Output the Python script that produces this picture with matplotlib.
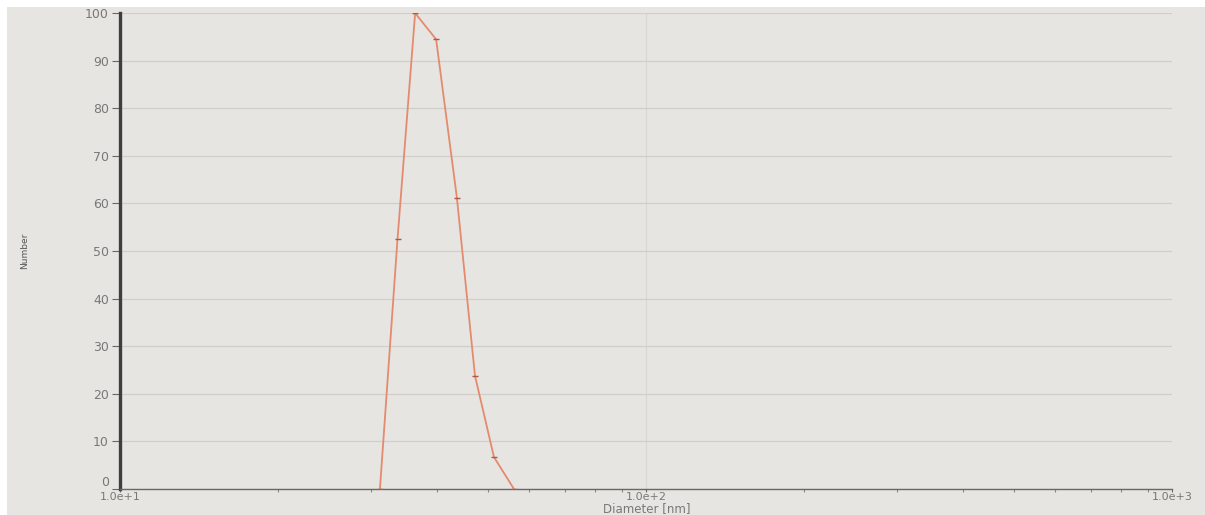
import matplotlib
matplotlib.use("Agg")
import matplotlib.pyplot as plt
from matplotlib.ticker import FixedLocator, FixedFormatter, LogLocator, NullFormatter
from matplotlib.patches import Rectangle

# Size distribution by number (DLS)
diameter_nm = [31.2, 33.7, 36.4, 39.9, 43.7, 47.3, 51.4, 56.1]
number_pct = [0.0, 52.6, 100.0, 94.5, 61.2, 23.8, 6.7, 0.0]

x_ticks = [10, 100, 1000]
x_tick_labels = ["1.0e+1", "1.0e+2", "1.0e+3"]
y_ticks = list(range(0, 101, 10))

paper = "#e7e5e2"
ink = "#7a7876"

fig = plt.figure(figsize=(12.05, 5.15), dpi=100)
fig.patch.set_facecolor(paper)
# white margin strips along the top and left edges
fig.patches.append(Rectangle((0, 0.986), 1, 0.014, transform=fig.transFigure,
                             facecolor="white", edgecolor="none", zorder=0))
fig.patches.append(Rectangle((0, 0), 0.006, 1, transform=fig.transFigure,
                             facecolor="white", edgecolor="none", zorder=0))

ax = fig.add_axes([0.0996, 0.0505, 0.873, 0.924])
ax.set_facecolor(paper)
ax.set_xscale("log")
ax.set_xlim(10, 1000)
ax.set_ylim(0, 100)

ax.xaxis.set_major_locator(FixedLocator(x_ticks))
ax.xaxis.set_major_formatter(FixedFormatter(x_tick_labels))
ax.xaxis.set_minor_locator(LogLocator(base=10, subs=range(2, 10)))
ax.xaxis.set_minor_formatter(NullFormatter())
ax.set_yticks(y_ticks)

ax.grid(axis="y", color="#d0cecb", linewidth=0.9)
ax.grid(axis="x", which="major", color="#d8d6d3", linewidth=0.8)
ax.set_axisbelow(True)

for side in ("top", "right"):
    ax.spines[side].set_visible(False)
ax.spines["left"].set_color("#3f3e3d")
ax.spines["left"].set_linewidth(2.4)
ax.spines["bottom"].set_color("#6a6866")
ax.spines["bottom"].set_linewidth(1.0)

ax.tick_params(axis="y", direction="out", length=6, width=0.8, colors="#6a6866",
               labelsize=9, labelcolor=ink, pad=2)
ax.tick_params(axis="x", which="major", direction="out", length=2, width=0.8,
               colors="#6a6866", labelsize=8, labelcolor=ink, pad=0.5)
ax.tick_params(axis="x", which="minor", direction="out", length=2, width=0.8,
               colors="#8a8886")

ax.plot(diameter_nm, number_pct, color="#e48a6e", linewidth=1.3,
        marker="_", markersize=5, markeredgecolor="#b5553d", markeredgewidth=1.0,
        zorder=3)

# lift the "0" label so it sits just above the x tick labels
fig.canvas.draw()
ax.get_yticklabels()[0].set_va("bottom")

ax.set_xlabel("Diameter [nm]", fontsize=8.5, color=ink)
ax.xaxis.set_label_coords(0.537, 0.0, transform=fig.transFigure)
ax.xaxis.label.set_va("bottom")
ax.set_ylabel("Number", fontsize=6.5, color="#555")
ax.yaxis.set_label_coords(-0.086, 0.5)

fig.savefig("out.png", dpi=100, facecolor=fig.get_facecolor())
